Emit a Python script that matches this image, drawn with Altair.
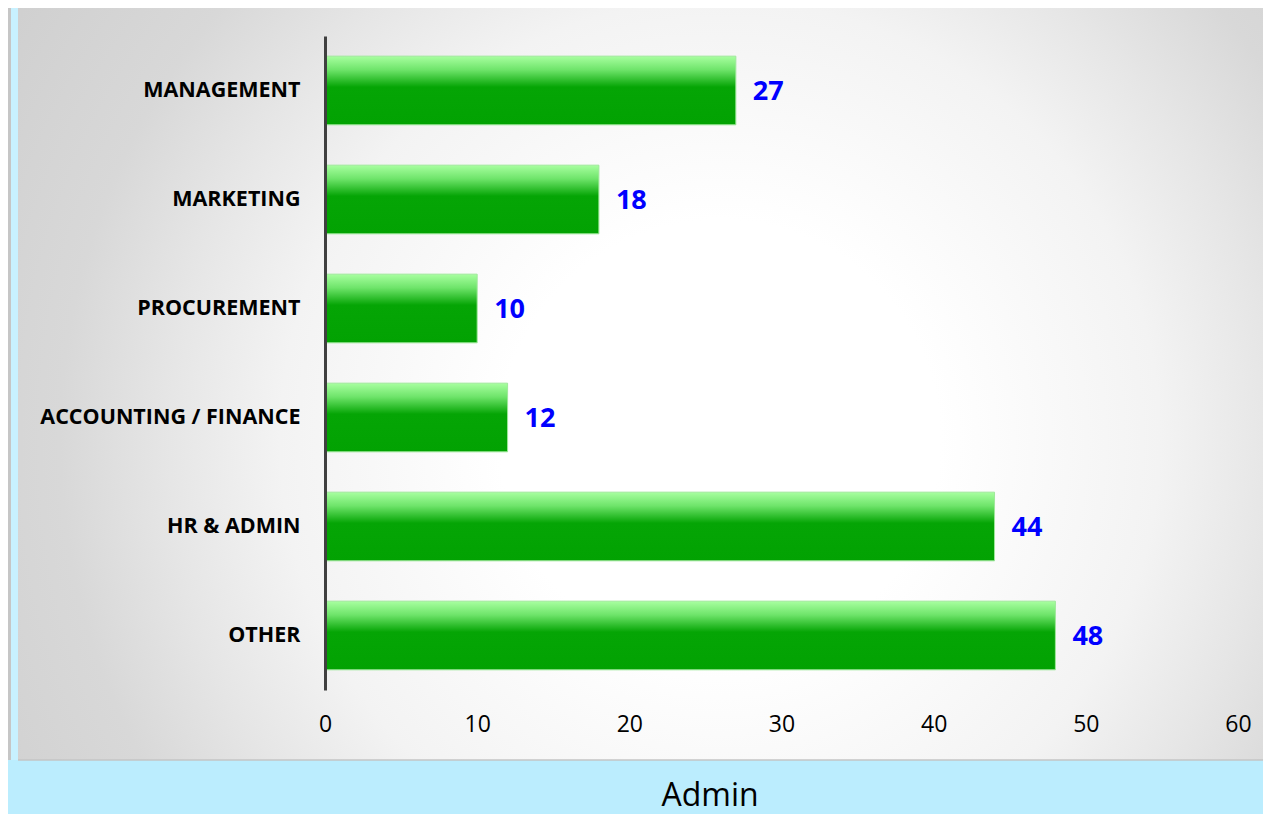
import altair as alt
import pandas as pd

categories = ["MANAGEMENT", "MARKETING", "PROCUREMENT", "ACCOUNTING / FINANCE", "HR & ADMIN", "OTHER"]
values = [27, 18, 10, 12, 44, 48]
x_ticks = [0, 10, 20, 30, 40, 50, 60]
footer_text = ["Admin"]

df = pd.DataFrame({"cat": categories, "value": values})
one = pd.DataFrame({"a": [0]})

FONT = "Open Sans"
W, H = 913, 654
BLUE_BG = "#bbedfe"

# large radial-gradient backdrop (clipped by canvas and covered by the bands)
panel = alt.Chart(one).mark_rect(
    fill={
        "gradient": "radial",
        "x1": 0.5, "y1": 0.5, "r1": 0,
        "x2": 0.5, "y2": 0.5, "r2": 0.5,
        "stops": [
            {"offset": 0, "color": "#ffffff"},
            {"offset": 0.2, "color": "#ffffff"},
            {"offset": 0.4, "color": "#f3f3f3"},
            {"offset": 0.5, "color": "#e6e6e6"},
            {"offset": 0.6, "color": "#d8d8d8"},
            {"offset": 0.8, "color": "#cdcdcd"},
            {"offset": 1, "color": "#c4c4c4"},
        ],
    },
).encode(
    x=alt.value(-505), x2=alt.value(1295),
    y=alt.value(-696), y2=alt.value(1504),
)

left_blue = alt.Chart(one).mark_rect(fill="#c8f1ff").encode(
    x=alt.value(-330), x2=alt.value(-307),
    y=alt.value(-40), y2=alt.value(800),
)
left_gray = alt.Chart(one).mark_rect(fill="#c6c6c6").encode(
    x=alt.value(-330), x2=alt.value(-314),
    y=alt.value(-40), y2=alt.value(724),
)
bottom_band = alt.Chart(one).mark_rect(fill=BLUE_BG).encode(
    x=alt.value(-330), x2=alt.value(1000),
    y=alt.value(724), y2=alt.value(900),
)
panel_edge = alt.Chart(one).mark_rule(color="#c4c4c4", strokeWidth=1.5).encode(
    x=alt.value(-307), x2=alt.value(1000), y=alt.value(724),
)

ycat = alt.Y(
    "cat:N", sort=categories,
    scale=alt.Scale(paddingInner=0.37, paddingOuter=0.185),
    axis=alt.Axis(
        title=None, labelFont=FONT, labelFontSize=21.5, labelFontWeight="bold",
        labelColor="#000000", labelPadding=25, labelLimit=500, ticks=False,
        domainColor="#404040", domainWidth=3, zindex=1,
    ),
)
xval = alt.X(
    "value:Q",
    scale=alt.Scale(domain=[0, 60], nice=False),
    axis=alt.Axis(
        title=None, values=x_ticks, labelFont=FONT, labelFontSize=23,
        labelColor="#000000", labelPadding=23, labelFlush=False, ticks=False,
        domain=False, grid=False, zindex=1,
    ),
)

bars = alt.Chart(df).mark_bar(
    color={
        "gradient": "linear",
        "x1": 0, "y1": 0, "x2": 0, "y2": 1,
        "stops": [
            {"offset": 0, "color": "#a8ffa0"},
            {"offset": 0.2, "color": "#6ee46a"},
            {"offset": 0.45, "color": "#05a505"},
            {"offset": 1, "color": "#02a202"},
        ],
    },
    stroke="#9ee89a", strokeWidth=1,
).encode(x=xval, y=ycat)

labels = alt.Chart(df).mark_text(
    align="left", baseline="middle", dx=17, dy=1,
    font=FONT, fontSize=27, fontWeight="bold", color="#0000ff",
).encode(x="value:Q", y=alt.Y("cat:N", sort=categories), text="value:Q")

footer = alt.Chart(pd.DataFrame({"t": footer_text})).mark_text(
    align="center", baseline="middle", font=FONT, fontSize=32, color="#000000",
).encode(x=alt.value(385), y=alt.value(760), text="t:N")

chart = alt.layer(
    panel, left_blue, left_gray, bottom_band, panel_edge, bars, labels, footer
).properties(
    width=W, height=H,
    autosize=alt.AutoSizeParams(type="none"),
    padding={"left": 317, "top": 28, "right": 25, "bottom": 124},
    background=BLUE_BG,
).configure_view(stroke=None)

chart.save("out.html", embed_options={"renderer": "svg", "actions": False})
